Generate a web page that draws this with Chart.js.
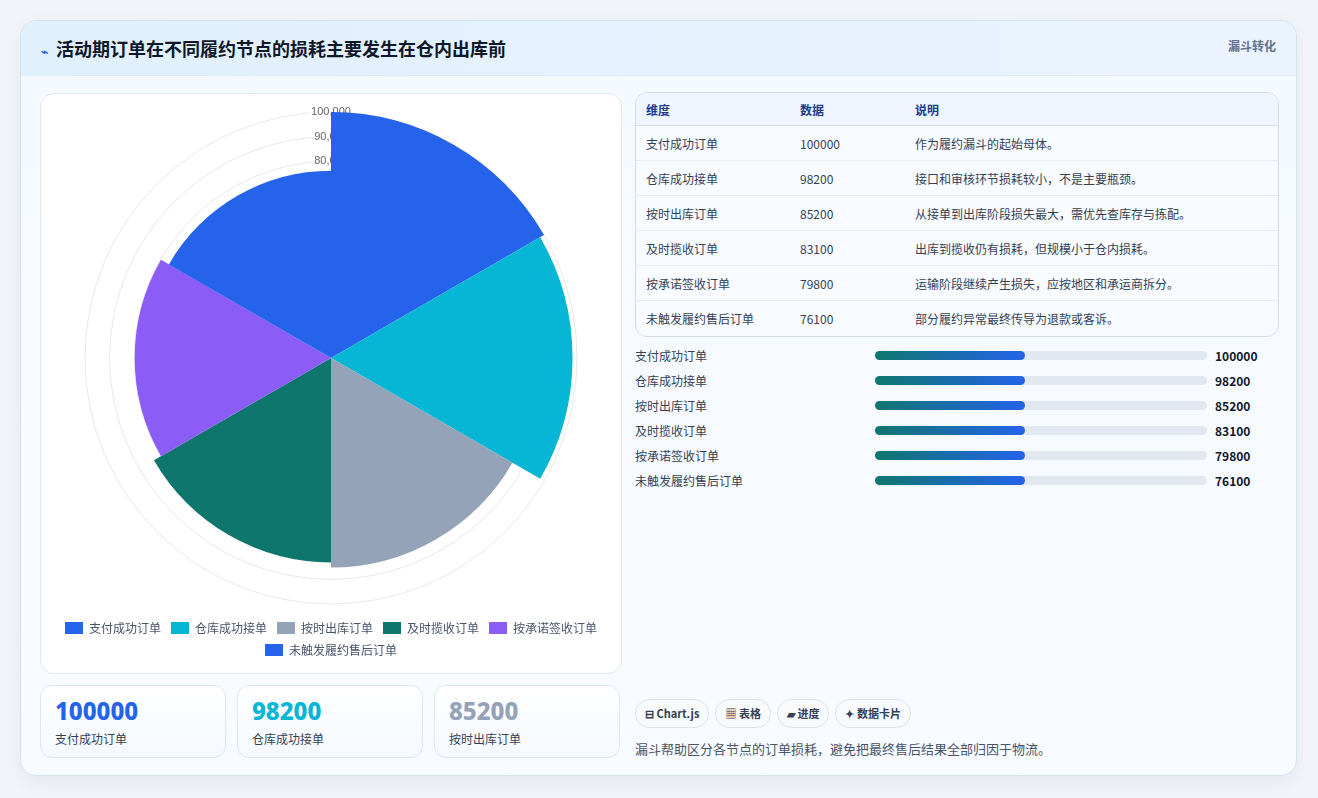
<!DOCTYPE html>
<html><head><meta charset="utf-8">
<script src="https://cdn.jsdelivr.net/npm/chart.js@4.4.1/dist/chart.umd.min.js"></script>
<style>
*{box-sizing:border-box}
body{margin:0;width:1318px;height:798px;background:#f1f5f9;font-family:"Noto Sans CJK SC","Noto Sans",sans-serif;color:#1e293b;overflow:hidden}
.card{position:absolute;left:20px;top:20px;width:1277px;height:756px;border:1px solid #cfe3f3;border-radius:16px;background:linear-gradient(180deg,#f5faff,#f8fbff);overflow:hidden;box-shadow:0 6px 20px rgba(15,23,42,.06)}
.head{height:55px;background:linear-gradient(90deg,#e0f0fd,#ebf3ff);border-bottom:1px solid #dbeafe;position:relative}
.head h1{margin:0;position:absolute;left:20px;top:14px;font-size:18px;font-weight:700;color:#0f172a}
.head h1 span{color:#2563eb;font-size:12px;margin-right:8px}
.tag{position:absolute;right:20px;top:16px;font-size:12px;color:#64748b;font-weight:700}
.panel{position:absolute;left:19px;top:72px;width:582px;height:581px;background:#fff;border:1px solid #e2e8f0;border-radius:14px}
.cv{position:absolute;left:10px;top:10px;width:560px;height:562px}
table{position:absolute;left:614px;top:71px;width:644px;border-collapse:separate;border-spacing:0;border:1px solid #d3dce8;border-radius:12px;overflow:hidden;font-size:12px;background:#f8fbff}
th{text-align:left;height:33px;padding:0 10px;color:#1e3a8a;background:#eff6ff;border-bottom:1px solid #d3dce8;font-weight:700}
td{height:35px;padding:0 10px;border-bottom:1px solid #e5ecf4;color:#334155}
tr:last-child td{border-bottom:none}
.bars{position:absolute;left:614px;top:324px;width:644px;font-size:12px}
.row{position:relative;height:25px}
.row .l{position:absolute;left:0;top:2px;color:#334155}
.row .t{position:absolute;left:240px;top:6px;width:332px;height:9px;background:#e2e8f0;border-radius:5px}
.row .f{height:9px;width:150px;border-radius:5px;background:linear-gradient(90deg,#0f766e,#2563eb)}
.row .v{position:absolute;left:580px;top:2px;font-weight:700;color:#0f172a}
.kpi{position:absolute;top:664px;width:186px;height:73px;border:1px solid #dbe7f3;border-radius:12px;background:linear-gradient(180deg,#fff,#f5f9ff)}
.kpi b{position:absolute;left:14px;top:8px;font-size:24px;font-family:"Noto Sans","Noto Sans CJK SC";font-weight:800}
.kpi s{text-decoration:none;position:absolute;left:14px;top:44px;font-size:12px;color:#334155}
.chips{position:absolute;left:614px;top:678px}
.chip{display:inline-block;height:29px;line-height:27px;padding:0 9px;margin-right:6px;border:1px solid #dbe3ee;border-radius:15px;background:#f8fafc;font-size:11px;font-weight:700;color:#334155}
.note{position:absolute;left:614px;top:718px;font-size:13px;color:#475569}
</style></head><body>
<div class="card">
<div class="head"><h1><span>⌁</span>活动期订单在不同履约节点的损耗主要发生在仓内出库前</h1><div class="tag">漏斗转化</div></div>
<div class="panel"><div class="cv"><canvas id="c"></canvas></div></div>
<table id="tb"><tr><th style="width:154px">维度</th><th style="width:115px">数据</th><th>说明</th></tr></table>
<div class="bars" id="bars"></div>
<div class="kpi" style="left:19px"><b style="color:#2563eb">100000</b><s>支付成功订单</s></div>
<div class="kpi" style="left:216px"><b style="color:#06b6d4">98200</b><s>仓库成功接单</s></div>
<div class="kpi" style="left:413px"><b style="color:#94a3b8">85200</b><s>按时出库订单</s></div>
<div class="chips"><span class="chip">⊟ Chart.js</span><span class="chip">▦ 表格</span><span class="chip">▰ 进度</span><span class="chip">✦ 数据卡片</span></div>
<div class="note">漏斗帮助区分各节点的订单损耗，避免把最终售后结果全部归因于物流。</div>
</div>
<script>
const categories=["支付成功订单","仓库成功接单","按时出库订单","及时揽收订单","按承诺签收订单","未触发履约售后订单"];
const values=[100000,98200,85200,83100,79800,76100];
const notes=["作为履约漏斗的起始母体。","接口和审核环节损耗较小，不是主要瓶颈。","从接单到出库阶段损失最大，需优先查库存与拣配。","出库到揽收仍有损耗，但规模小于仓内损耗。","运输阶段继续产生损失，应按地区和承运商拆分。","部分履约异常最终传导为退款或客诉。"];
const colors=["#2563eb","#06b6d4","#94a3b8","#0f766e","#8b5cf6","#2563eb"];
const tb=document.getElementById('tb'),bars=document.getElementById('bars');
categories.forEach((c,i)=>{
 const tr=document.createElement('tr');
 tr.innerHTML=`<td>${c}</td><td>${values[i]}</td><td>${notes[i]}</td>`;tb.appendChild(tr);
 const r=document.createElement('div');r.className='row';
 r.innerHTML=`<span class="l">${c}</span><div class="t"><div class="f"></div></div><span class="v">${values[i]}</span>`;bars.appendChild(r);
});
new Chart(document.getElementById('c'),{type:'polarArea',
 data:{labels:categories,datasets:[{data:values,backgroundColor:colors,borderWidth:0}]},
 options:{responsive:true,maintainAspectRatio:false,animation:false,
  layout:{padding:{top:0}},
  scales:{r:{min:0,max:100000,ticks:{stepSize:10000,color:'#666',font:{size:11}},grid:{color:'#e5e7eb'}}},
  plugins:{legend:{position:'bottom',labels:{boxWidth:18,boxHeight:12,color:'#475569',font:{size:12,family:'"Noto Sans CJK SC"'},padding:10}}}}});
</script>
</body></html>
